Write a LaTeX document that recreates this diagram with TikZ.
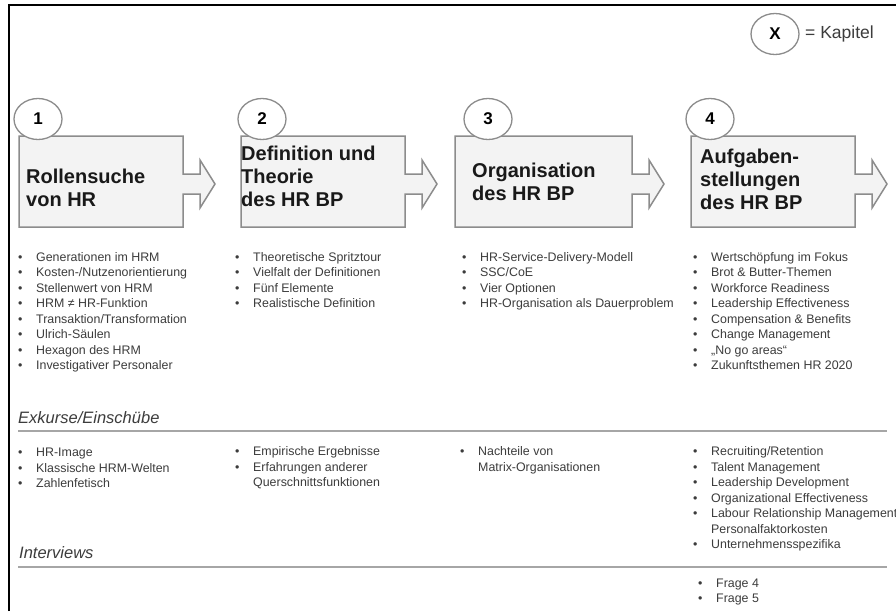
\documentclass[tikz,border=0pt]{standalone}
\usepackage{fontspec}
\setmainfont{Liberation Sans}
\usetikzlibrary{shapes.geometric}
\definecolor{rahmengrau}{HTML}{8C8C8C}
\definecolor{boxgrau}{HTML}{F3F3F3}
\definecolor{textgrau}{HTML}{3C3C3C}
\newcommand\pkt{\makebox[18pt][l]{\textbullet}}
\newcommand\einr{\hspace*{18pt}}
\begin{document}
\begin{tikzpicture}[x=1pt,y=-1pt,
    kapbox/.style={draw=rahmengrau, fill=boxgrau, line width=1.5pt, line join=miter},
    kapnum/.style={ellipse, draw=rahmengrau, fill=white, line width=1.3pt, minimum width=48pt,
        minimum height=41pt, inner sep=0pt, font=\fontsize{17}{20}\selectfont\bfseries},
    titel/.style={anchor=north west, align=left, inner sep=0pt, text=black!90,
        font=\fontsize{20}{23}\selectfont\bfseries},
    liste/.style={anchor=north west, align=left, inner sep=0pt, text=textgrau,
        font=\fontsize{12.4}{15.5}\selectfont},
    rubrik/.style={anchor=base west, inner sep=0pt, text=textgrau, font=\fontsize{16.5}{20}\selectfont\itshape},
    linie/.style={draw=gray!70, line width=1.5pt}]
    \useasboundingbox (0,0) rectangle (896,611);
    \fill[white] (0,0) rectangle (896,611);
    \draw[line width=1.2pt] (9,611) -- (9,5) -- (896,5);
    % Legende
    \node[kapnum] (kx) at (775,34) {X};
    \node[anchor=west, inner sep=0pt, text=textgrau, font=\fontsize{17.5}{20}\selectfont] (kl) at (805,34) {= Kapitel};
    % Kapitel-Pfeile
    \foreach \a/\b in {19/183, 241/405, 455/632, 691/855}
        \draw[kapbox] (\a,136) -- (\b,136) -- (\b,174) -- (\b+17,174) -- (\b+17,160) -- (\b+32,184)
            -- (\b+17,208) -- (\b+17,194) -- (\b,194) -- (\b,227) -- (\a,227) -- cycle;
    \node[kapnum] (k1) at (38,119) {1};
    \node[kapnum] (k2) at (262,119) {2};
    \node[kapnum] (k3) at (488,119) {3};
    \node[kapnum] (k4) at (710,119) {4};
    \node[titel] (t1) at (26,168.5) {Rollensuche\\von HR};
    \node[titel] (t2) at (241,145.5) {Definition und\\Theorie\\des HR BP};
    \node[titel] (t3) at (472,162.5) {Organisation\\des HR BP};
    \node[titel] (t4) at (700,148.5) {Aufgaben-\\stellungen\\des HR BP};
    % Inhalte
    \node[liste] (l1) at (18,252) {\pkt Generationen im HRM\\\pkt Kosten-/Nutzenorientierung\\
        \pkt Stellenwert von HRM\\\pkt HRM ≠ HR-Funktion\\\pkt Transaktion/Transformation\\
        \pkt Ulrich-Säulen\\\pkt Hexagon des HRM\\\pkt Investigativer Personaler};
    \node[liste] (l2) at (235,252) {\pkt Theoretische Spritztour\\\pkt Vielfalt der Definitionen\\
        \pkt Fünf Elemente\\\pkt Realistische Definition};
    \node[liste] (l3) at (462,252) {\pkt HR-Service-Delivery-Modell\\\pkt SSC/CoE\\
        \pkt Vier Optionen\\\pkt HR-Organisation als Dauerproblem};
    \node[liste] (l4) at (693,252) {\pkt Wertschöpfung im Fokus\\\pkt Brot \& Butter-Themen\\
        \pkt Workforce Readiness\\\pkt Leadership Effectiveness\\\pkt Compensation \& Benefits\\
        \pkt Change Management\\\pkt „No go areas“\\\pkt Zukunftsthemen HR 2020};
    % Exkurse
    \node[rubrik] (exk) at (18,423) {Exkurse/Einschübe};
    \draw[linie] (18,431) -- (887,431);
    \node[liste] (e1) at (18,448) {\pkt HR-Image\\\pkt Klassische HRM-Welten\\\pkt Zahlenfetisch};
    \node[liste] (e2) at (235,446.5) {\pkt Empirische Ergebnisse\\\pkt Erfahrungen anderer\\
        \einr Querschnittsfunktionen};
    \node[liste] (e3) at (460,446.5) {\pkt Nachteile von\\\einr Matrix-Organisationen};
    \node[liste] (e4) at (693,446.5) {\pkt Recruiting/Retention\\\pkt Talent Management\\
        \pkt Leadership Development\\\pkt Organizational Effectiveness\\
        \pkt Labour Relationship Management\\\einr Personalfaktorkosten\\\pkt Unternehmensspezifika};
    % Interviews
    \node[rubrik] (int) at (19,558) {Interviews};
    \draw[linie] (18,567) -- (887,567);
    \node[liste] (i4) at (698,578.5) {\pkt Frage 4\\\pkt Frage 5};
\end{tikzpicture}
\end{document}
